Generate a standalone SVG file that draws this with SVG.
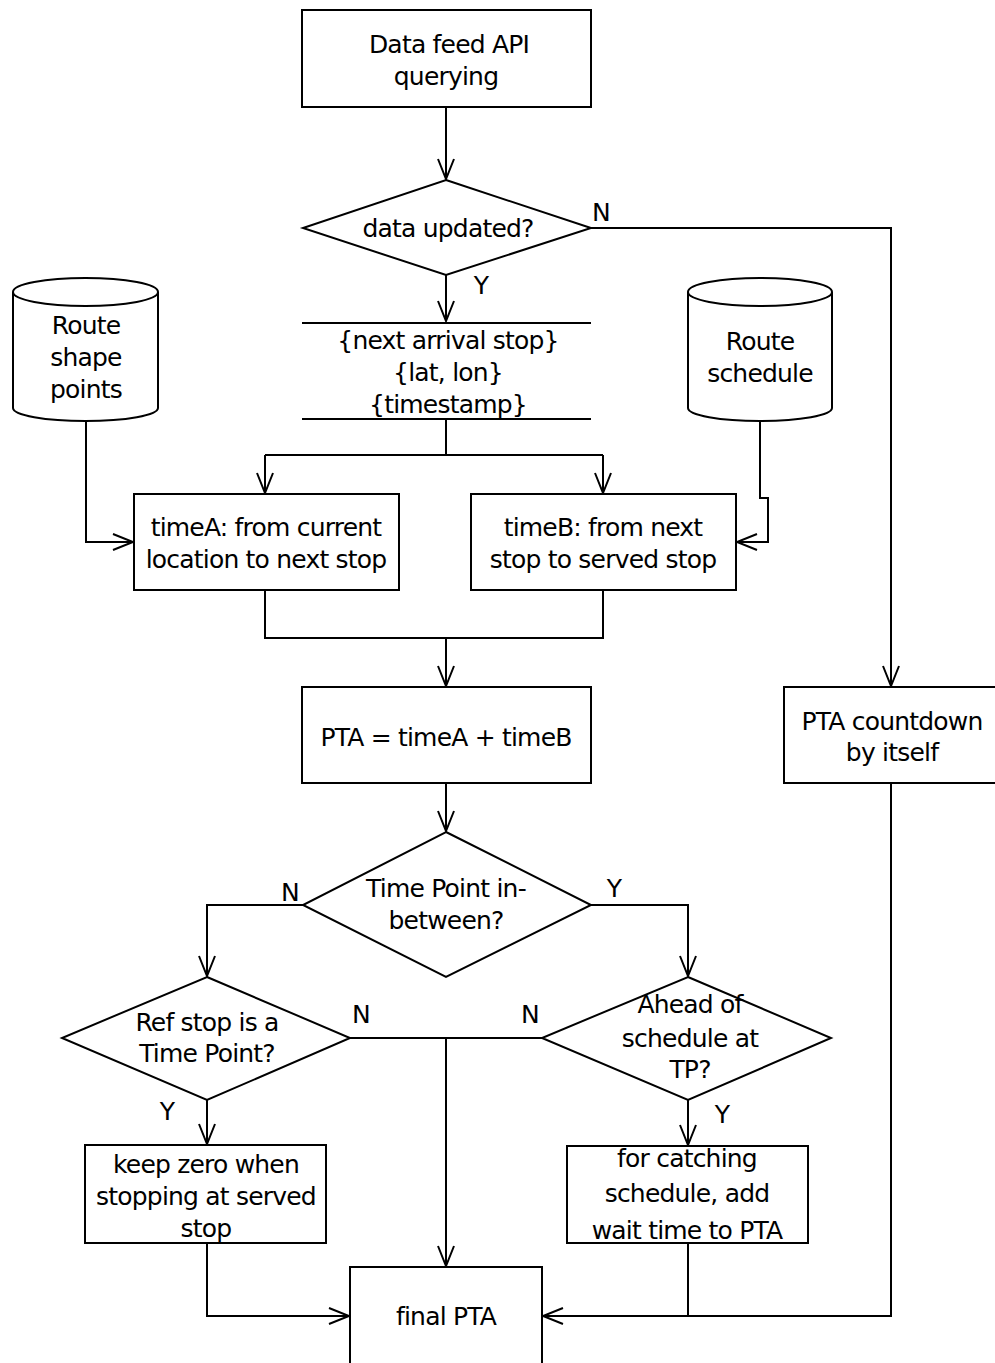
<svg xmlns="http://www.w3.org/2000/svg" width="995" height="1363" viewBox="0 0 995 1363">
<style>
.s{fill:#fff;stroke:#000;stroke-width:2}
.l{fill:none;stroke:#000;stroke-width:2}
text{font-family:"DejaVu Sans",sans-serif;font-size:25px;fill:#000;text-anchor:middle;dominant-baseline:central;letter-spacing:-0.8px}
</style>
<defs>
<marker id="a" markerUnits="userSpaceOnUse" markerWidth="24" markerHeight="20" viewBox="0 0 24 20" refX="22" refY="10" orient="auto">
<path d="M2,2 L22,10 L2,18" fill="none" stroke="#000" stroke-width="2"/>
</marker>
</defs>
<rect width="995" height="1363" fill="#fff"/>
<g id="connectors">
<path class="l" d="M446,107 V179" marker-end="url(#a)"/>
<path class="l" d="M591,228 H891 V686" marker-end="url(#a)"/>
<path class="l" d="M446,275 V321" marker-end="url(#a)"/>
<path class="l" d="M446,419 V455 M265,455 H603"/>
<path class="l" d="M265,455 V493" marker-end="url(#a)"/>
<path class="l" d="M603,455 V493" marker-end="url(#a)"/>
<path class="l" d="M86,421 V542 H133" marker-end="url(#a)"/>
<path class="l" d="M760,421 V498 H768 V542 H737" marker-end="url(#a)"/>
<path class="l" d="M265,590 V638 H603 V590"/>
<path class="l" d="M446,638 V686" marker-end="url(#a)"/>
<path class="l" d="M446,783 V831" marker-end="url(#a)"/>
<path class="l" d="M303,905 H207 V976" marker-end="url(#a)"/>
<path class="l" d="M591,905 H688 V976" marker-end="url(#a)"/>
<path class="l" d="M350,1038 H542"/>
<path class="l" d="M446,1038 V1266" marker-end="url(#a)"/>
<path class="l" d="M207,1100 V1144" marker-end="url(#a)"/>
<path class="l" d="M688,1100 V1145" marker-end="url(#a)"/>
<path class="l" d="M207,1243 V1316 H349" marker-end="url(#a)"/>
<path class="l" d="M891,783 V1316 H543" marker-end="url(#a)"/>
<path class="l" d="M688,1243 V1316"/>
<text x="601" y="212">N</text>
<text x="481" y="285">Y</text>
<text x="290" y="892">N</text>
<text x="614" y="888">Y</text>
<text x="361" y="1014">N</text>
<text x="530" y="1014">N</text>
<text x="167" y="1111">Y</text>
<text x="722" y="1114">Y</text>
</g>
<g id="api">
<rect class="s" x="302" y="10" width="289" height="97"/>
<text x="449" y="44">Data feed API</text>
<text x="446" y="76">querying</text>
</g>
<g id="updated">
<polygon class="s" points="446,180 591,228 446,275 303,228"/>
<text x="448" y="228">data updated?</text>
</g>
<g id="data">
<path class="l" d="M302,323 H591 M302,419 H591"/>
<text x="448" y="340">{next arrival stop}</text>
<text x="448" y="372">{lat, lon}</text>
<text x="448" y="404">{timestamp}</text>
</g>
<g id="shape">
<path class="s" d="M13,292 V408 A72.5,13 0 0 0 158,408 V292"/>
<ellipse class="s" cx="85.5" cy="292" rx="72.5" ry="14"/>
<text x="86" y="325">Route</text>
<text x="86" y="357">shape</text>
<text x="86" y="389">points</text>
</g>
<g id="schedule">
<path class="s" d="M688,292 V408 A72,13 0 0 0 832,408 V292"/>
<ellipse class="s" cx="760" cy="292" rx="72" ry="14"/>
<text x="760" y="341">Route</text>
<text x="760" y="373">schedule</text>
</g>
<g id="timeA">
<rect class="s" x="134" y="494" width="265" height="96"/>
<text x="266" y="527">timeA: from current</text>
<text x="266" y="559">location to next stop</text>
</g>
<g id="timeB">
<rect class="s" x="471" y="494" width="265" height="96"/>
<text x="603" y="527">timeB: from next</text>
<text x="603" y="559">stop to served stop</text>
</g>
<g id="pta">
<rect class="s" x="302" y="687" width="289" height="96"/>
<text x="446" y="737">PTA = timeA + timeB</text>
</g>
<g id="countdown">
<rect class="s" x="784" y="687" width="220" height="96"/>
<text x="892" y="721">PTA countdown</text>
<text x="892" y="752">by itself</text>
</g>
<g id="between">
<polygon class="s" points="446,832 591,905 446,977 303,905"/>
<text x="446" y="888">Time Point in-</text>
<text x="446" y="920">between?</text>
</g>
<g id="refstop">
<polygon class="s" points="207,977 350,1038 207,1100 62,1038"/>
<text x="207" y="1022">Ref stop is a</text>
<text x="207" y="1053">Time Point?</text>
</g>
<g id="ahead">
<polygon class="s" points="688,977 831,1038 688,1100 542,1038"/>
<text x="690" y="1004">Ahead of</text>
<text x="690" y="1038">schedule at</text>
<text x="690" y="1069">TP?</text>
</g>
<g id="keepzero">
<rect class="s" x="85" y="1145" width="241" height="98"/>
<text x="206" y="1164">keep zero when</text>
<text x="206" y="1196">stopping at served</text>
<text x="206" y="1228">stop</text>
</g>
<g id="catching">
<rect class="s" x="567" y="1146" width="241" height="97"/>
<text x="687" y="1158">for catching</text>
<text x="687" y="1193">schedule, add</text>
<text x="687" y="1230">wait time to PTA</text>
</g>
<g id="final">
<rect class="s" x="350" y="1267" width="192" height="110"/>
<text x="446" y="1316">final PTA</text>
</g>
</svg>
